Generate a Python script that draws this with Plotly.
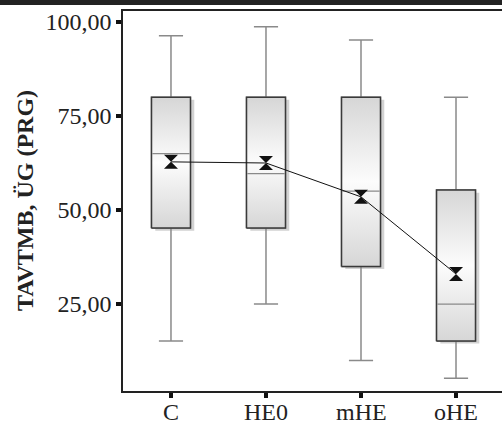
import plotly.graph_objects as go

categories = ["C", "HE0", "mHE", "oHE"]
lower_whisker = [15.2, 25.0, 10.0, 5.3]
q1 = [45.2, 45.2, 35.0, 15.2]
median = [65.0, 59.7, 55.0, 25.0]
q3 = [80.0, 80.0, 80.0, 55.3]
upper_whisker = [96.3, 98.7, 95.2, 80.0]
means = [62.8, 62.5, 53.5, 33.0]
y_ticks = [25, 50, 75, 100]
y_tick_labels = ["25,00", "50,00", "75,00", "100,00"]

xpos = list(range(len(categories)))
FONT = "Liberation Serif"
BOXW = 0.41

fig = go.Figure()

# shadow boxes
fig.add_trace(go.Box(
    x=[p + 0.04 for p in xpos],
    q1=[v - 0.7 for v in q1], median=[v - 0.7 for v in q3], q3=[v - 0.7 for v in q3],
    lowerfence=[v - 0.7 for v in q1], upperfence=[v - 0.7 for v in q3],
    width=BOXW, fillcolor="#d2d2d2", line=dict(color="rgba(0,0,0,0)", width=0),
    hoverinfo="skip", showlegend=False,
))
# whiskers (gray lines)
fig.add_trace(go.Box(
    x=xpos, q1=q1, median=median, q3=q3,
    lowerfence=lower_whisker, upperfence=upper_whisker,
    width=BOXW, whiskerwidth=0.62, fillcolor="rgba(0,0,0,0)",
    line=dict(color="#8a8a8a", width=1.5), showlegend=False,
))
# gradient-filled box bodies with dark outline (from the quartile arrays)
for p, lo, hi in zip(xpos, q1, q3):
    fig.add_trace(go.Scatter(
        x=[p - BOXW / 2, p + BOXW / 2, p + BOXW / 2, p - BOXW / 2, p - BOXW / 2],
        y=[lo, lo, hi, hi, lo], mode="lines", fill="toself",
        line=dict(width=1.5, color="#3a3a3a"),
        fillgradient=dict(type="vertical",
                          colorscale=[[0, "#d6d6d6"], [0.5, "#fcfcfc"], [1, "#d6d6d6"]]),
        hoverinfo="skip", showlegend=False,
    ))
# medians
for p, m in zip(xpos, median):
    fig.add_trace(go.Scatter(
        x=[p - BOXW / 2 + 0.008, p + BOXW / 2 - 0.008], y=[m, m], mode="lines",
        line=dict(width=1.3, color="#8a8a8a"), hoverinfo="skip", showlegend=False,
    ))
# means
fig.add_trace(go.Scatter(
    x=xpos, y=means, mode="lines+markers",
    line=dict(color="#111", width=1),
    marker=dict(symbol="hourglass", size=14, color="#111"),
    showlegend=False,
))

fig.add_shape(type="rect", xref="paper", yref="paper",
              x0=-0.5, x1=1.5, y0=1 + 6/380, y1=1.05,
              fillcolor="#222", line=dict(width=0), layer="above")

fig.add_annotation(text="<b>TAVTMB, ÜG (PRG)</b>", xref="paper", yref="paper",
                   x=(25 - 123) / 379, y=0.5, xanchor="center", yanchor="middle",
                   textangle=-90, showarrow=False,
                   font=dict(family=FONT, size=24, color="#222"))

# category labels placed just below the axis
for p, c in zip(xpos, categories):
    fig.add_annotation(text=c, x=p, xref="x", y=-21 / 380, yref="paper",
                       xanchor="center", yanchor="middle", showarrow=False,
                       font=dict(family=FONT, size=24, color="#222"))

fig.update_layout(
    width=502, height=430,
    margin=dict(l=123, r=0, t=11, b=39),
    paper_bgcolor="white", plot_bgcolor="white",
    font=dict(family=FONT, size=24, color="#222"),
    hovermode=False,
    xaxis=dict(range=[-0.505, 3.484], tickvals=xpos, ticktext=[""] * len(xpos),
               showline=True, linecolor="#222", linewidth=1.5, mirror=True,
               ticks="outside", ticklen=5, tickwidth=4, tickcolor="#111",
               showgrid=False, zeroline=False, fixedrange=True),
    yaxis=dict(range=[1.9, 102.9], tickvals=y_ticks, ticktext=y_tick_labels,
               showline=True, linecolor="#222", linewidth=1.5,
               ticks="outside", ticklen=5, tickwidth=4, tickcolor="#111",
               showgrid=False, zeroline=False, ticklabelstandoff=0,
               fixedrange=True),
)

fig.write_html("out.html", config={"displayModeBar": False},
               post_script="document.body.style.margin='0';")
